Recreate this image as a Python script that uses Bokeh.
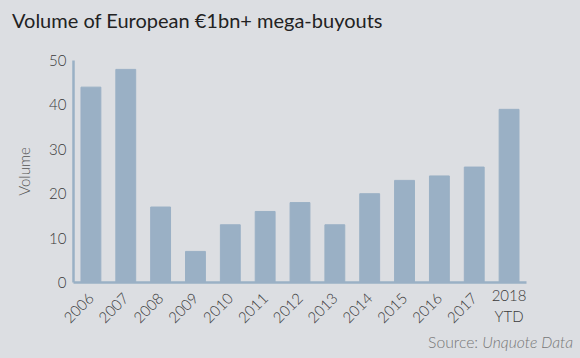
import math
from bokeh.plotting import figure
from bokeh.models import (ColumnDataSource, FactorRange, Range1d, CustomJSTickFormatter,
                          CategoricalAxis, Div)
from bokeh.layouts import column
from bokeh.embed import file_html
from bokeh.resources import INLINE

years = ["2006", "2007", "2008", "2009", "2010", "2011", "2012", "2013",
         "2014", "2015", "2016", "2017", "2018 YTD"]
volumes = [44, 48, 17, 7, 13, 16, 18, 13, 20, 23, 24, 26, 39]
last_label = "2018\nYTD"
title = "Volume of European €1bn+ mega-buyouts"
source_label = "Source:"
source_name = "Unquote Data"

BG = "#dcdee2"
BAR = "#9ab0c5"
FONT = "Lato"
LIGHT = "Lato Light"

src = ColumnDataSource(data=dict(year=years, volume=volumes))

title_div = Div(text=title, width=580, height=42, margin=0,
                styles={"font-family": FONT, "font-size": "20px", "line-height": "41px",
                        "color": "#222222", "text-indent": "12px", "white-space": "nowrap",
                        "background": BG, "overflow": "hidden"})

p = figure(x_range=FactorRange(*years, range_padding=0), y_range=Range1d(0, 50),
           title=None, width=580, height=288, output_backend="svg", toolbar_location=None,
           min_border_left=73, min_border_right=54, min_border_top=18,
           min_border_bottom=46)
p.background_fill_color = BG
p.border_fill_color = BG
p.outline_line_color = None
p.grid.grid_line_color = None

p.vbar(x="year", top="volume", width=0.57, source=src, color=BAR)

def style_axis(ax):
    ax.axis_line_color = BAR
    ax.axis_line_width = 2.5
    ax.major_tick_line_color = None
    ax.minor_tick_line_color = None
    ax.major_tick_out = 0
    ax.major_tick_in = 0
    ax.major_label_text_font = LIGHT
    ax.major_label_text_font_size = "15px"
    ax.major_label_text_color = "#3a3a3a"

style_axis(p.xaxis[0])
style_axis(p.yaxis[0])

p.yaxis.ticker = [0, 10, 20, 30, 40, 50]
p.yaxis.major_label_standoff = 7
p.yaxis.axis_label = "Volume"
p.yaxis.axis_label_text_font = LIGHT
p.yaxis.axis_label_text_font_size = "15px"
p.yaxis.axis_label_text_font_style = "normal"
p.yaxis.axis_label_text_color = "#555555"
p.yaxis.axis_label_standoff = 13

# first axis: only the last, horizontal two-line label
p.xaxis[0].formatter = CustomJSTickFormatter(
    args=dict(last=years[-1], lab=last_label),
    code="return tick == last ? lab : ''")
p.xaxis[0].major_label_standoff = 3

# second axis: the rotated year labels
ax2 = CategoricalAxis()
style_axis(ax2)
ax2.axis_line_color = None
ax2.major_label_orientation = math.pi / 4
ax2.formatter = CustomJSTickFormatter(args=dict(last=years[-1]),
                                      code="return tick == last ? '' : tick")
ax2.major_label_standoff = -33
p.add_layout(ax2, "below")

source_div = Div(text='%s <i>%s</i>' % (source_label, source_name), width=573, height=28,
                 margin=0,
                 styles={"text-align": "right", "font-family": "'%s', %s" % (LIGHT, FONT),
                         "font-size": "15.7px", "font-weight": "300", "line-height": "24px",
                         "color": "#777777", "white-space": "nowrap", "background": BG})

layout = column(title_div, p, source_div, spacing=0, margin=0, styles={"background": BG})

html = file_html(layout, INLINE)
html = html.replace("<head>", "<head><style>html,body{background:%s;}</style>" % BG, 1)
open("out.html", "w").write(html)
